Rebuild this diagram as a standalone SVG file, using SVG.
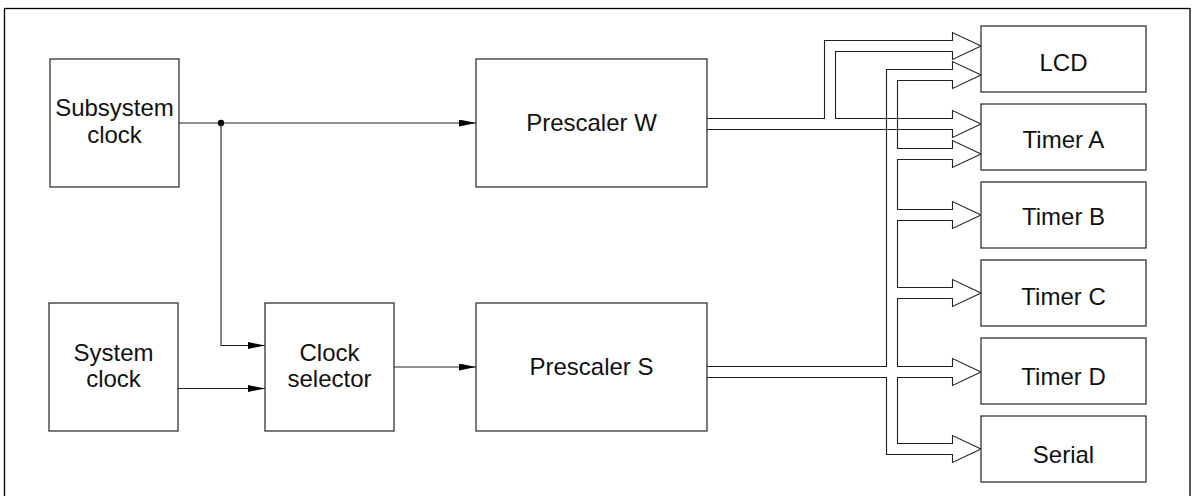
<svg xmlns="http://www.w3.org/2000/svg" width="1197" height="496" viewBox="0 0 1197 496">
<defs>
<style>
.box{fill:#fff;stroke:#333;stroke-width:1.3}
.lbl{font-family:"Liberation Sans",Arial,sans-serif;font-size:24px;fill:#111;text-anchor:middle}
.ln{fill:none;stroke:#222;stroke-width:1.1}
.bus{fill:none;stroke:#222;stroke-width:1.1;stroke-linejoin:miter}
</style>
<marker id="ah" viewBox="0 0 17 7" refX="17" refY="3.5" markerWidth="17" markerHeight="7" markerUnits="userSpaceOnUse" orient="auto">
<path d="M0,0 L17,3.5 L0,7 Z" fill="#000"/>
</marker>
</defs>
<rect x="4.5" y="8.5" width="1185.5" height="500" fill="none" stroke="#000" stroke-width="1.3"/>

<g id="connectors">
<line class="ln" x1="179" y1="123" x2="476" y2="123" marker-end="url(#ah)"/>
<circle cx="221" cy="123" r="3.2" fill="#000"/>
<polyline class="ln" points="221,123 221,345.5 265,345.5" marker-end="url(#ah)"/>
<line class="ln" x1="178" y1="388.5" x2="265" y2="388.5" marker-end="url(#ah)"/>
<line class="ln" x1="394" y1="367" x2="476" y2="367" marker-end="url(#ah)"/>

<!-- W bus -->
<path class="bus" d="M707,118.5 H824.5 V40.5 H952.5 V32.5 L981,46 L952.5,59.5 V51.5 H835.5 V118.5 H952.5 V110.5 L981,124 L952.5,137.5 V129.5 H707"/>

<!-- S bus outer line -->
<path class="bus" d="M707,366.5 H886.5 V69.5 H952.5 V61.5 L981,75 L952.5,88.5 V80.5 H897.5 V148.5 H952.5 V140.5 L981,154 L952.5,167.5 V159.5 H897.5 V209.5 H952.5 V201.5 L981,215 L952.5,228.5 V220.5 H897.5 V287.5 H952.5 V279.5 L981,293 L952.5,306.5 V298.5 H897.5 V366.5 H952.5 V358.5 L981,372 L952.5,385.5 V377.5 H897.5 V443.5 H952.5 V435.5 L981,449 L952.5,462.5 V454.5 H886.5 V377.5 H707"/>
</g>

<g id="subsystem-clock">
<rect class="box" x="50" y="59" width="129" height="128"/>
<text class="lbl" x="114.5" y="115.5">Subsystem</text>
<text class="lbl" x="114.5" y="142.5">clock</text>
</g>
<g id="system-clock">
<rect class="box" x="49" y="303" width="129" height="128"/>
<text class="lbl" x="113.5" y="361">System</text>
<text class="lbl" x="113.5" y="387">clock</text>
</g>
<g id="clock-selector">
<rect class="box" x="265" y="303" width="129" height="128"/>
<text class="lbl" x="329.5" y="361">Clock</text>
<text class="lbl" x="329.5" y="387">selector</text>
</g>
<g id="prescaler-w">
<rect class="box" x="476" y="59" width="231" height="128"/>
<text class="lbl" x="591.5" y="131">Prescaler W</text>
</g>
<g id="prescaler-s">
<rect class="box" x="476" y="303" width="231" height="128"/>
<text class="lbl" x="591.5" y="375">Prescaler S</text>
</g>
<g id="lcd">
<rect class="box" x="981" y="26" width="165" height="66"/>
<text class="lbl" x="1063.5" y="70.5">LCD</text>
</g>
<g id="timer-a">
<rect class="box" x="981" y="104" width="165" height="66"/>
<text class="lbl" x="1063.5" y="147.5">Timer A</text>
</g>
<g id="timer-b">
<rect class="box" x="981" y="182" width="165" height="66"/>
<text class="lbl" x="1063.5" y="225">Timer B</text>
</g>
<g id="timer-c">
<rect class="box" x="981" y="260" width="165" height="66"/>
<text class="lbl" x="1063.5" y="305">Timer C</text>
</g>
<g id="timer-d">
<rect class="box" x="981" y="338" width="165" height="66"/>
<text class="lbl" x="1063.5" y="384.5">Timer D</text>
</g>
<g id="serial">
<rect class="box" x="981" y="416" width="165" height="66"/>
<text class="lbl" x="1063.5" y="462.5">Serial</text>
</g>
</svg>
